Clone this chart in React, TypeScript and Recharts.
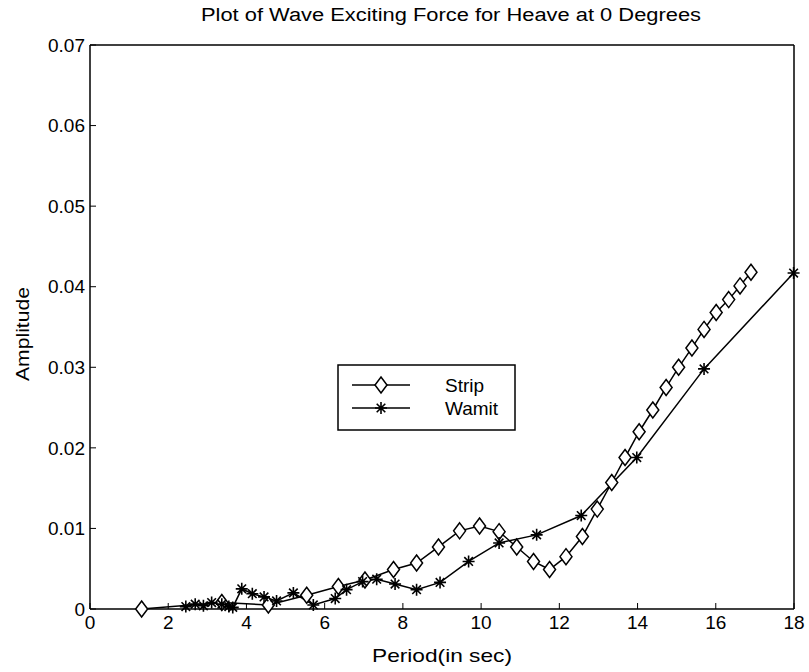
import { LineChart, Line, XAxis, YAxis } from "recharts";

// Strip theory results (diamonds)
const stripPeriod = [
  1.32, 3.37, 4.56, 5.54, 6.35, 7.03, 7.76, 8.35, 8.91, 9.45, 9.96, 10.46, 10.91, 11.34, 11.75,
  12.17, 12.59, 12.97, 13.34, 13.68, 14.04, 14.39, 14.73, 15.05, 15.39, 15.7, 16.01, 16.33, 16.62, 16.9,
];
const stripAmp = [
  0, 0.0008, 0.0005, 0.0017, 0.0028, 0.0036, 0.0049, 0.0057, 0.0077, 0.0097, 0.0103, 0.0096, 0.0077, 0.0059, 0.0049,
  0.0065, 0.009, 0.0124, 0.0157, 0.0188, 0.022, 0.0247, 0.0275, 0.03, 0.0324, 0.0347, 0.0368, 0.0384, 0.0401, 0.0418,
];

// Wamit results (asterisks)
const wamitPeriod = [
  2.45, 2.69, 2.9, 3.11, 3.37, 3.55, 3.65, 3.88, 4.15, 4.45, 4.77, 5.2, 5.71, 6.27, 6.56,
  6.97, 7.33, 7.8, 8.35, 8.95, 9.68, 10.46, 11.42, 12.56, 13.98, 15.7, 17.99,
];
const wamitAmp = [
  0.0003, 0.0006, 0.0004, 0.0008, 0.0006, 0.0003, 0.0002, 0.0025, 0.0019, 0.0015, 0.001, 0.002, 0.0005, 0.0013, 0.0024,
  0.0034, 0.0037, 0.0031, 0.0024, 0.0033, 0.0059, 0.0082, 0.0092, 0.0116, 0.0188, 0.0298, 0.0417,
];

const xTicks = [0, 2, 4, 6, 8, 10, 12, 14, 16, 18];
const yTicks = [0, 0.01, 0.02, 0.03, 0.04, 0.05, 0.06, 0.07];

const stripData = stripPeriod.map((x, i) => ({ x, y: stripAmp[i] }));
const wamitData = wamitPeriod.map((x, i) => ({ x, y: wamitAmp[i] }));

const FONT = "'Liberation Sans', Arial, sans-serif";
const axisStyle = { stroke: "#000", strokeWidth: 1.5 };
const tickStyle = { fill: "#000", fontSize: 19, fontFamily: FONT };

function diamondPath(cx: number, cy: number) {
  return `M${cx},${cy - 8}L${cx + 6},${cy}L${cx},${cy + 8}L${cx - 6},${cy}Z`;
}

function starPath(cx: number, cy: number) {
  const r = 6;
  const d = 4.3;
  return `M${cx - r},${cy}H${cx + r}M${cx},${cy - r}V${cy + r}M${cx - d},${cy - d}L${cx + d},${cy + d}M${cx - d},${cy + d}L${cx + d},${cy - d}`;
}

// eslint-disable-next-line @typescript-eslint/no-explicit-any
function DiamondDot(props: any) {
  const { cx, cy, index } = props;
  if (cx == null || cy == null) return <g key={`sd-${index}`} />;
  return <path key={`sd-${index}`} d={diamondPath(cx, cy)} fill="#fff" stroke="#000" strokeWidth={1.5} />;
}

// eslint-disable-next-line @typescript-eslint/no-explicit-any
function StarDot(props: any) {
  const { cx, cy, index } = props;
  if (cx == null || cy == null) return <g key={`wd-${index}`} />;
  return <path key={`wd-${index}`} d={starPath(cx, cy)} fill="none" stroke="#000" strokeWidth={1.6} />;
}

export default function App() {
  return (
    <div style={{ position: "relative", width: 809, height: 672, background: "#fff" }}>
      <style>{"body{margin:0}"}</style>
      <LineChart width={809} height={672} margin={{ top: 44, right: 14, bottom: 62, left: 89 }}>
        <XAxis
          xAxisId="b"
          type="number"
          dataKey="x"
          domain={[0, 18]}
          ticks={xTicks}
          interval={0}
          height={1}
          tickSize={-6}
          tickMargin={13}
          axisLine={axisStyle}
          tickLine={{ stroke: "#000" }}
          tick={tickStyle}
        />
        <XAxis
          xAxisId="t"
          orientation="top"
          type="number"
          dataKey="x"
          domain={[0, 18]}
          ticks={xTicks}
          interval={0}
          height={1}
          tickSize={-6}
          axisLine={axisStyle}
          tickLine={{ stroke: "#000" }}
          tick={false}
        />
        <YAxis
          yAxisId="l"
          type="number"
          domain={[0, 0.07]}
          ticks={yTicks}
          interval={0}
          width={1}
          tickSize={-6}
          tickMargin={11}
          axisLine={axisStyle}
          tickLine={{ stroke: "#000" }}
          tick={tickStyle}
          tickFormatter={(v: number) => (v === 0 ? "0" : v.toFixed(2))}
        />
        <YAxis
          yAxisId="r"
          orientation="right"
          type="number"
          domain={[0, 0.07]}
          ticks={yTicks}
          interval={0}
          width={1}
          tickSize={-6}
          axisLine={axisStyle}
          tickLine={{ stroke: "#000" }}
          tick={false}
        />
        <Line
          xAxisId="b"
          yAxisId="l"
          data={stripData}
          dataKey="y"
          type="linear"
          stroke="#000"
          strokeWidth={1.5}
          dot={DiamondDot}
          activeDot={false}
          isAnimationActive={false}
        />
        <Line
          xAxisId="b"
          yAxisId="l"
          data={wamitData}
          dataKey="y"
          type="linear"
          stroke="#000"
          strokeWidth={1.5}
          dot={StarDot}
          activeDot={false}
          isAnimationActive={false}
        />
      </LineChart>
      <svg
        width={809}
        height={672}
        style={{ position: "absolute", left: 0, top: 0, pointerEvents: "none" }}
        fontFamily={FONT}
      >
        <text x={451} y={21} textAnchor="middle" fontSize={18} textLength={500} lengthAdjust="spacingAndGlyphs">
          Plot of Wave Exciting Force for Heave at 0 Degrees
        </text>
        <text x={442} y={662} textAnchor="middle" fontSize={19} textLength={140} lengthAdjust="spacingAndGlyphs">
          Period(in sec)
        </text>
        <text
          x={0}
          y={0}
          transform="translate(29,334) rotate(-90)"
          textAnchor="middle"
          fontSize={19}
          textLength={94}
          lengthAdjust="spacingAndGlyphs"
        >
          Amplitude
        </text>
        <rect x={338} y={365} width={177} height={65} fill="#fff" stroke="#000" strokeWidth={1.5} />
        <line x1={352} y1={385} x2={410} y2={385} stroke="#000" strokeWidth={1.5} />
        <path d={diamondPath(381, 385)} fill="#fff" stroke="#000" strokeWidth={1.5} />
        <text x={445} y={392} fontSize={19}>Strip</text>
        <line x1={352} y1={408} x2={410} y2={408} stroke="#000" strokeWidth={1.5} />
        <path d={starPath(381, 408)} fill="none" stroke="#000" strokeWidth={1.6} />
        <text x={445} y={415} fontSize={19}>Wamit</text>
      </svg>
    </div>
  );
}
